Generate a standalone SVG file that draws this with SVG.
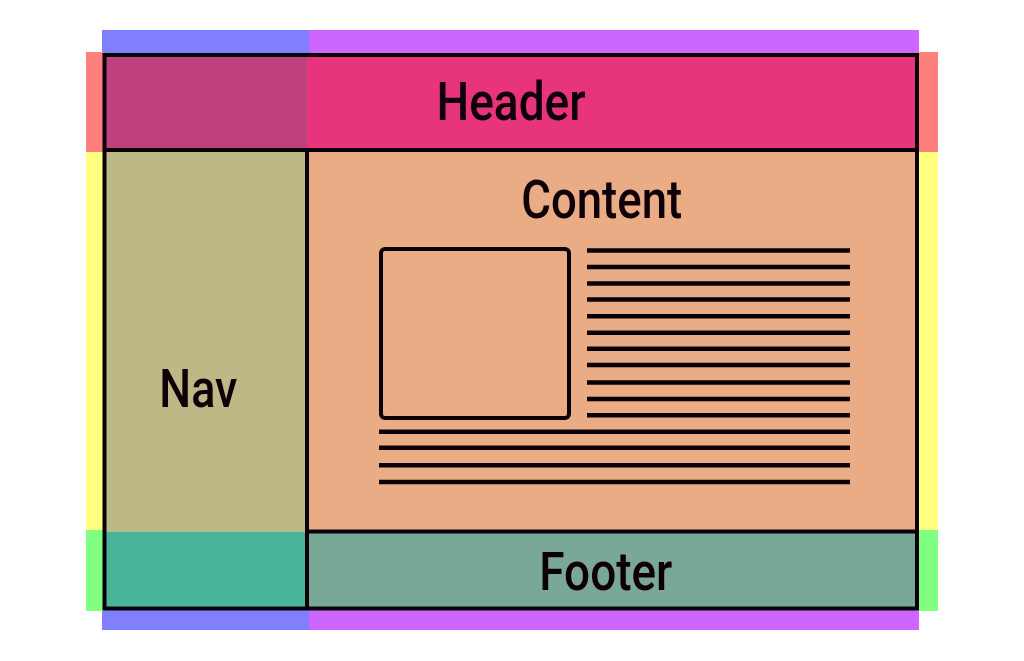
<svg xmlns="http://www.w3.org/2000/svg" width="1024" height="661" viewBox="0 0 1024 661">
<style>
.frame{fill:none;stroke:#0a0008;stroke-width:4}
.ln{stroke:#0a0008;stroke-width:4.5;stroke-linecap:butt}
.lbl{font-family:Roboto,"Liberation Sans",sans-serif;font-size:53px;font-weight:500;fill:#0d0008;text-anchor:middle}
</style>
<rect width="1024" height="661" fill="#ffffff"/>
<g id="indicators">
<rect x="102" y="30" width="207" height="25" fill="#7f7fff"/>
<rect x="309" y="30" width="610" height="25" fill="#cc66ff"/>
<rect x="102" y="608" width="207" height="22" fill="#7f7fff"/>
<rect x="309" y="608" width="610" height="22" fill="#cc66ff"/>
<rect x="86" y="52" width="19" height="100" fill="#ff7f7f"/>
<rect x="86" y="152" width="19" height="378" fill="#ffff80"/>
<rect x="86" y="530" width="19" height="81" fill="#80ff80"/>
<rect x="916" y="52" width="22" height="100" fill="#ff7f7f"/>
<rect x="916" y="152" width="22" height="378" fill="#ffff80"/>
<rect x="916" y="530" width="22" height="81" fill="#80ff80"/>
</g>
<g id="header">
<rect x="104.5" y="55" width="202.5" height="95" fill="#be407c"/>
<rect x="307" y="55" width="610" height="95" fill="#e8347a"/>
<text class="lbl" x="511" y="119.5" textLength="149" lengthAdjust="spacingAndGlyphs">Header</text>
</g>
<g id="nav">
<rect x="104.5" y="150" width="202.5" height="381.5" fill="#bdb885"/>
<text class="lbl" x="198.3" y="406.7" textLength="78" lengthAdjust="spacingAndGlyphs">Nav</text>
</g>
<g id="content">
<rect x="307" y="150" width="610" height="381.5" fill="#e9ac84"/>
<text class="lbl" x="601.7" y="218.3" textLength="161" lengthAdjust="spacingAndGlyphs">Content</text>
<rect x="381" y="249" width="188" height="169" rx="4" class="frame"/>
<g class="ln">
<line x1="587" y1="250.5" x2="850" y2="250.5"/>
<line x1="587" y1="267" x2="850" y2="267"/>
<line x1="587" y1="283.5" x2="850" y2="283.5"/>
<line x1="587" y1="299.5" x2="850" y2="299.5"/>
<line x1="587" y1="316.3" x2="850" y2="316.3"/>
<line x1="587" y1="332.7" x2="850" y2="332.7"/>
<line x1="587" y1="348.7" x2="850" y2="348.7"/>
<line x1="587" y1="365" x2="850" y2="365"/>
<line x1="587" y1="382.5" x2="850" y2="382.5"/>
<line x1="587" y1="399" x2="850" y2="399"/>
<line x1="587" y1="415.3" x2="850" y2="415.3"/>
<line x1="379" y1="431.7" x2="850" y2="431.7"/>
<line x1="379" y1="447.8" x2="850" y2="447.8"/>
<line x1="379" y1="465.3" x2="850" y2="465.3"/>
<line x1="379" y1="482" x2="850" y2="482"/>
</g>
</g>
<g id="footer">
<rect x="104.5" y="531.5" width="202.5" height="77" fill="#48b59a"/>
<rect x="307" y="531.5" width="610" height="77" fill="#79a897"/>
<text class="lbl" x="605.8" y="590" textLength="133" lengthAdjust="spacingAndGlyphs">Footer</text>
</g>
<g id="grid-lines">
<rect x="104.5" y="55" width="812.5" height="553.5" class="frame"/>
<line class="frame" x1="104.5" y1="150" x2="917" y2="150"/>
<line class="frame" x1="307" y1="150" x2="307" y2="608.5"/>
<line class="frame" x1="307" y1="531.5" x2="917" y2="531.5"/>
</g>
</svg>
